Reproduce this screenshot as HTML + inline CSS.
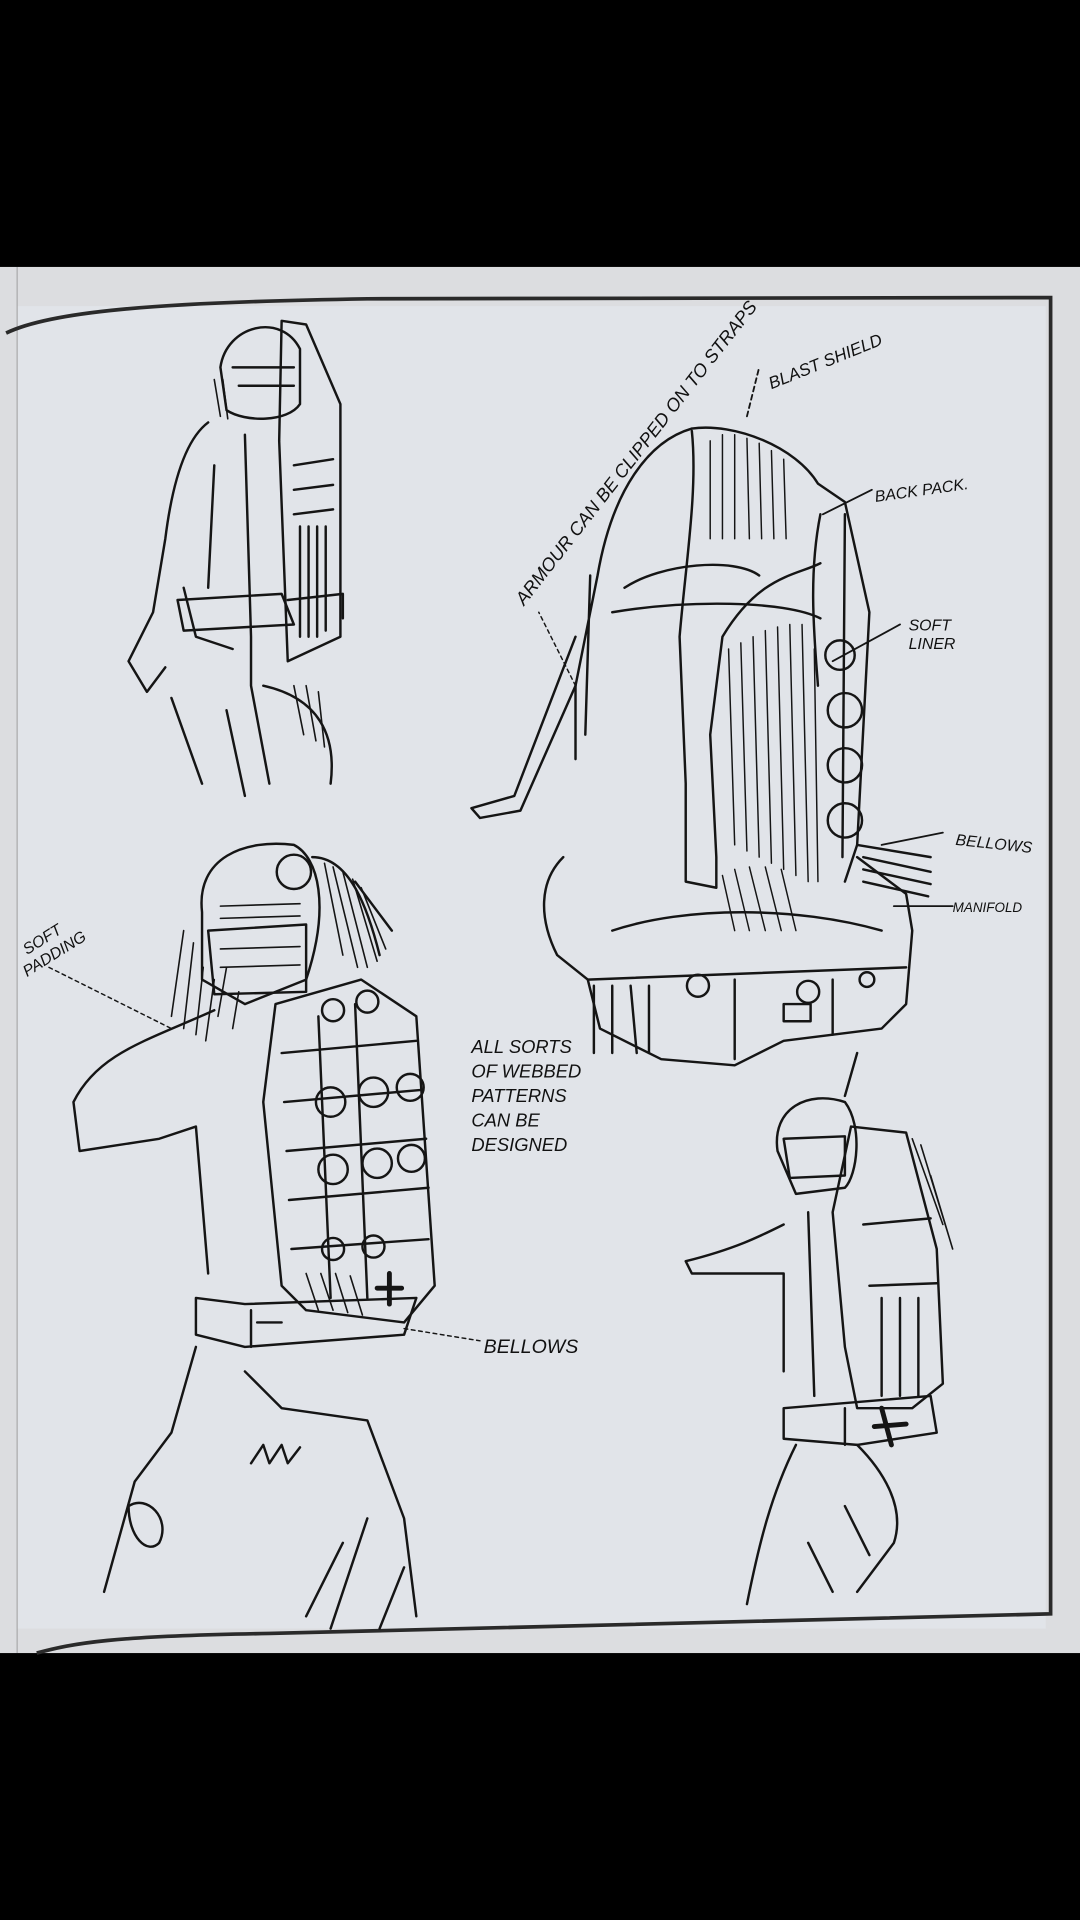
<!DOCTYPE html>
<html><head><meta charset="utf-8"><style>
html,body{margin:0;padding:0;background:#000;}
svg{display:block;}
text{font-family:"Liberation Sans",sans-serif;font-style:italic;fill:#111;}
</style></head><body>
<svg width="1080" height="1920" viewBox="0 0 882 1568" preserveAspectRatio="none" xmlns="http://www.w3.org/2000/svg">
<rect x="0" y="0" width="882" height="1568" fill="#000"/>
<rect x="0" y="218" width="882" height="1132" fill="#dcdde0"/>
<rect x="14" y="250" width="840" height="1080" fill="#e1e4e9"/>
<line x1="14" y1="218" x2="14" y2="1350" stroke="#aaa" stroke-width="1"/>
<path d="M5,272 C40,255 120,247 300,244 L858,243 L858,1318 L220,1334 C90,1336 60,1342 30,1350" fill="none" stroke="#2a2a2a" stroke-width="3"/>
<g fill="none" stroke="#151515" stroke-width="2" stroke-linecap="round" stroke-linejoin="round">
<!-- top-left figure -->
<path d="M180,300 C185,265 230,255 245,285 L245,330 C235,345 200,345 185,335 Z"/>
<path d="M190,300 L240,300 M195,315 L240,315"/>
<path d="M230,262 L250,265 L278,330 L278,520 L235,540 L228,360 Z"/>
<path d="M240,380 L272,375 M240,400 L272,396 M240,420 L272,416 M245,430 L245,520 M252,430 L252,520 M259,430 L259,520 M266,430 L266,515"/>
<path d="M170,345 C150,360 140,400 135,440 L125,500 L105,540 L120,565 L135,545"/>
<path d="M200,355 L205,520 L205,560 L220,640 M175,380 L170,480 M150,480 L160,520 L190,530"/>
<path d="M145,490 L230,485 L240,510 L150,515 Z M235,490 L280,485 L280,505"/>
<path d="M215,560 C260,570 275,600 270,640 M140,570 L165,640 M185,580 L200,650"/>
<path d="M240,560 L248,600 M250,560 L258,605 M260,565 L265,610 M175,310 L180,340 M182,310 L186,342" stroke-width="1.3"/>
<!-- central backpack -->
<path d="M565,350 C600,345 650,365 668,395 L690,410 L710,500 L700,690 L690,720"/>
<path d="M565,350 C530,360 500,400 488,470 L470,560 L470,620 M482,470 L478,600"/>
<path d="M565,352 C570,400 560,460 555,520 L560,640 L560,720 L585,725 L585,700 L580,600 L590,520 C620,470 650,470 670,460"/>
<path d="M510,480 C540,460 600,455 620,470 M500,500 C560,490 640,490 670,505"/>
<path d="M670,420 C660,470 665,520 668,560 M690,420 L688,700"/>
<g stroke-width="1.2"><path d="M595,530 L600,690 M605,525 L610,695 M615,520 L620,700 M625,515 L630,705 M635,512 L640,710 M645,510 L650,715 M655,510 L660,720 M665,530 L668,720"/>
<path d="M580,360 L580,440 M590,355 L590,440 M600,355 L600,440 M610,358 L612,440 M620,362 L622,440 M630,368 L632,440 M640,375 L642,440"/>
<path d="M590,715 L600,760 M600,710 L612,760 M612,708 L625,760 M625,708 L638,760 M638,710 L650,760"/></g>
<circle cx="690" cy="580" r="14"/><circle cx="690" cy="625" r="14"/><circle cx="690" cy="670" r="14"/><circle cx="686" cy="535" r="12"/>
<path d="M470,520 L420,650 L385,660 L392,668 L425,662 L470,560"/>
<path d="M460,700 C440,720 440,750 455,780 L480,800 L490,840 L540,865 L600,870 L640,850 L720,840 L740,820 L745,760 L740,730 L700,700"/>
<path d="M480,800 L740,790 M500,760 C560,740 650,740 720,760"/>
<path d="M485,805 L485,860 M500,805 L500,860 M515,805 L520,860 M530,805 L530,860 M600,800 L600,865 M680,800 L680,845"/>
<circle cx="570" cy="805" r="9"/><circle cx="660" cy="810" r="9"/><circle cx="708" cy="800" r="6"/>
<rect x="640" y="820" width="22" height="14"/>
<path d="M700,690 L760,700 M705,700 L760,712 M705,710 L760,722 M705,720 L758,732"/>
<!-- bottom-left figure -->
<path d="M165,745 C160,700 200,685 240,690 C260,700 270,740 250,800 L200,820 L165,800 Z"/>
<path d="M170,760 L250,755 L250,810 L175,812 Z"/>
<circle cx="240" cy="712" r="14"/>
<path d="M255,700 C285,700 300,740 310,780 M290,720 L320,760"/>
<g stroke-width="1.3"><path d="M265,705 L280,780 M272,708 L292,790 M280,712 L300,790 M288,718 L308,785 M295,725 L315,775 M150,760 L140,830 M158,770 L150,840 M166,790 L160,845 M175,800 L168,850 M185,790 L178,830 M195,810 L190,840"/>
<path d="M180,740 L245,738 M180,750 L245,748 M180,775 L245,773 M180,790 L245,788"/></g>
<path d="M225,820 L295,800 L340,830 L355,1050 L330,1080 L250,1070 L230,1050 L215,900 Z"/>
<path d="M230,860 L340,850 M232,900 L345,890 M234,940 L348,930 M236,980 L350,970 M238,1020 L350,1012 M260,830 L270,1060 M290,820 L300,1060"/>
<circle cx="270" cy="900" r="12"/><circle cx="305" cy="892" r="12"/><circle cx="335" cy="888" r="11"/>
<circle cx="272" cy="955" r="12"/><circle cx="308" cy="950" r="12"/><circle cx="336" cy="946" r="11"/>
<circle cx="272" cy="825" r="9"/><circle cx="300" cy="818" r="9"/><circle cx="272" cy="1020" r="9"/><circle cx="305" cy="1018" r="9"/>
<path d="M318,1040 L318,1065 M308,1052 L328,1052" stroke-width="4"/>
<path d="M175,825 C120,850 80,860 60,900 L65,940 L130,930 L160,920 L170,1040"/>
<path d="M160,1060 L160,1090 L200,1100 L330,1090 L340,1060 L200,1065 Z M205,1070 L205,1100 M210,1080 L230,1080"/>
<path d="M250,1040 L260,1070 M262,1040 L272,1070 M274,1040 L284,1072 M286,1042 L296,1074" stroke-width="1.3"/>
<path d="M160,1100 L140,1170 L110,1210 L85,1300 M200,1120 L230,1150 L300,1160 L330,1240 L340,1320 M270,1330 L300,1240 M250,1320 L280,1260 M310,1330 L330,1280"/>
<path d="M105,1230 C120,1220 140,1240 130,1260 C120,1270 105,1255 105,1230"/>
<path d="M205,1195 L215,1180 L220,1195 L230,1180 L235,1195 L245,1182"/>
<!-- bottom-right figure -->
<path d="M635,940 C630,905 660,890 690,900 C705,920 700,960 690,970 L650,975 Z M640,930 L690,928 L690,960 L645,962 Z"/>
<path d="M695,920 L740,925 L765,1020 L770,1130 L745,1150 L700,1150 L690,1100 L680,990 Z"/>
<path d="M705,1000 L760,995 M710,1050 L765,1048 M720,1060 L720,1140 M735,1060 L735,1140 M750,1060 L750,1140"/>
<path d="M745,930 L770,1000 M752,935 L775,1010 M760,960 L778,1020" stroke-width="1.3"/>
<path d="M640,1000 C620,1010 600,1020 560,1030 L565,1040 L640,1040 L640,1120 M660,990 L665,1140"/>
<path d="M640,1150 L760,1140 L765,1170 L700,1180 L640,1175 Z M690,1150 L690,1180"/>
<path d="M720,1150 L728,1180 M714,1165 L740,1163" stroke-width="4"/>
<path d="M650,1180 C630,1220 620,1260 610,1310 M700,1180 C720,1200 740,1230 730,1260 L700,1300 M660,1260 L680,1300 M690,1230 L710,1270"/>
<path d="M700,860 L690,895"/>
<!-- leader lines -->
<path d="M610,340 L620,300" stroke-width="1.5" stroke-dasharray="4,3"/>
<path d="M672,420 L712,400" stroke-width="1.5"/>
<path d="M680,540 L735,510" stroke-width="1.5"/>
<path d="M720,690 L770,680" stroke-width="1.5"/>
<path d="M730,740 L778,740" stroke-width="1.5"/>
<path d="M40,790 L140,840" stroke-width="1.2" stroke-dasharray="3,3"/>
<path d="M330,1085 L392,1095" stroke-width="1.2" stroke-dasharray="3,3"/>
<path d="M470,560 L440,500" stroke-width="1.2" stroke-dasharray="3,3"/>
</g>
<!-- labels -->
<text x="0" y="0" font-size="15" textLength="310" lengthAdjust="spacingAndGlyphs" transform="translate(428,495) rotate(-52)">ARMOUR CAN BE CLIPPED ON TO STRAPS</text>
<text x="0" y="0" font-size="14" transform="translate(630,318) rotate(-22)">BLAST SHIELD</text>
<text x="715" y="410" font-size="13" transform="rotate(-8,715,410)">BACK PACK.</text>
<text x="742" y="515" font-size="13">SOFT</text>
<text x="742" y="530" font-size="13">LINER</text>
<text x="780" y="690" font-size="13" transform="rotate(6,780,690)">BELLOWS</text>
<text x="778" y="745" font-size="11">MANIFOLD</text>
<text x="0" y="0" font-size="13" transform="translate(22,780) rotate(-32)">SOFT</text>
<text x="0" y="0" font-size="13" transform="translate(22,798) rotate(-32)">PADDING</text>
<text x="385" y="860" font-size="15">ALL SORTS</text>
<text x="385" y="880" font-size="15">OF WEBBED</text>
<text x="385" y="900" font-size="15">PATTERNS</text>
<text x="385" y="920" font-size="15">CAN BE</text>
<text x="385" y="940" font-size="15">DESIGNED</text>
<text x="395" y="1105" font-size="16">BELLOWS</text>
</svg>
</body></html>
